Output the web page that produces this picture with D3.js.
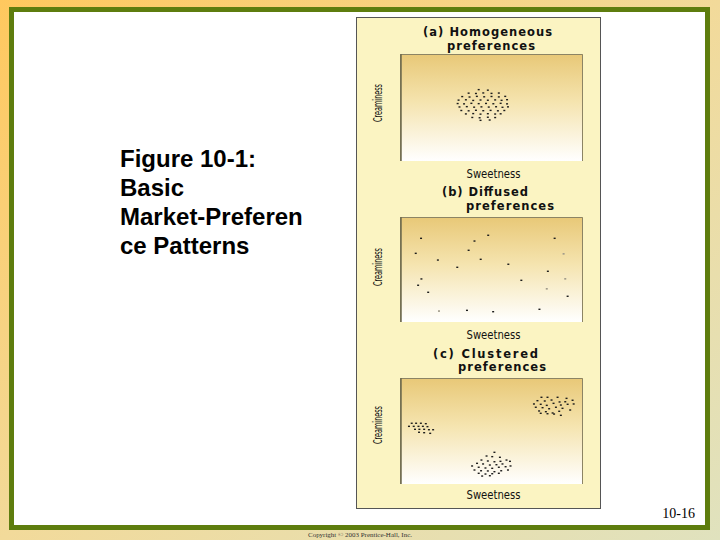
<!DOCTYPE html>
<html>
<head>
<meta charset="utf-8">
<title>Figure 10-1 Basic Market-Preference Patterns</title>
<script src="https://d3js.org/d3.v7.min.js"></script>
<style>
  body{ margin:0; padding:0; background:#fff; }
  svg{ display:block; }
  .heading{ font-family:"Liberation Sans", Arial, sans-serif; font-weight:bold; font-size:24px; fill:#000; }
  .ptitle{ font-family:"DejaVu Sans", sans-serif; font-weight:bold; font-size:11.5px; fill:#111; }
  .axlab{ font-family:"DejaVu Sans Condensed", "DejaVu Sans", sans-serif; font-size:13px; fill:#111; }
</style>
</head>
<body>
<div id="chart"></div>
<script>
// ---- data ----
var titleLines = ['Figure 10-1:', 'Basic', 'Market-Preferen', 'ce Patterns'];
var panelTitles = [['(a) Homogeneous', 'preferences'], ['(b) Diffused', 'preferences'], ['(c) Clustered', 'preferences']];
var xLabel = 'Sweetness', yLabel = 'Creaminess';
var pageNumber = '10-16';
var copyright = 'Copyright \u00a9 2003 Prentice-Hall, Inc.';

// [sweetness, creaminess] on a 0-100 scale
var homogeneous = [
  [43,66.7],[48,66.2],
  [37.5,63.4],[41.5,63.1],[45.5,63.6],[50,63.2],[54,63.5],
  [34,60.2],[38,59.8],[42,60.4],[46,60],[50,60.3],[54,59.9],[57.5,60.4],
  [32,56.9],[36,57.2],[40,56.6],[44,57],[48,56.8],[52,57.1],[55.5,56.7],[58.5,57.3],
  [31.5,53.7],[35,53.4],[39,53.9],[43,53.6],[47,53.8],[51,53.5],[55,53.9],[58.5,53.4],
  [32.5,50.5],[36.5,50.8],[40.5,50.3],[44.5,50.6],[48.5,50.4],[52.5,50.7],[56,50.2],[59,50.6],
  [33.5,47.2],[37.5,46.9],[41.5,47.4],[45.5,47],[49.5,47.3],[53.5,46.9],[57,47.2],
  [36,44],[40,44.3],[44,43.8],[48,44.2],[52,43.9],[55,44.1],
  [39.5,40.7],[43.5,40.4],[48,40.9],[52,40.6],
  [44,38],[49,38.3]
];
var diffused = [
  [11.5,79.7],[48.2,82.6],[40.7,77.1],[84.5,79.7],[8.6,65.4],[37.5,68.3],
  [20.7,59],[44.1,59.7],[31.3,52.1],[59.2,55],[80.8,48.3],[11.7,41],
  [66.3,39.7],[9.9,35],[15.4,28.3],[91.6,24.5],[36.6,11.1],[50.9,9.8],[76.2,12.1]
];
var diffusedFaint = [[89.4,65],[90.3,41.2],[80.2,31.7],[21.3,10.5]];
var clustered = [
  // small cluster, left
  [6.4,57.3],[8.8,57.3],[11.4,57.3],[14.1,56.9],
  [4.9,54.4],[7.5,54.4],[10.1,54.4],[12.5,54.4],[15,54.1],
  [8.2,51.6],[10.6,51.6],[13.2,51.6],[15.8,51.2],[18.1,51.2],
  [10.4,48.8],[13.2,48.4],[16.5,47.8],
  // upper right cluster
  [77.3,81.8],[80.6,81.8],[86.1,81.8],[91,80.8],
  [75.1,78.6],[79.1,78.3],[82.8,79.2],[87.2,77.4],[90.3,77.6],[94.3,79],
  [73.2,75.5],[76.9,75.2],[80.2,74.2],[83.9,76.1],[87.9,74.5],[91.6,75.2],[94.9,75.5],
  [74.2,72.4],[77.9,72],[81.5,71],[85.2,72.4],[88.8,71.4],[93,69.8],
  [76,68.9],[79.7,68.2],[83.4,67],[87,68.6],
  [76.9,66.7],[80.6,66.3],[84.2,66],[87.9,64.8],
  // bottom cluster
  [51.6,29.9],
  [47.3,26.4],[50.4,25.8],[54.6,25.2],
  [44.5,22.6],[48,21.7],[51.6,21],[54.9,21.4],[58.2,22.6],
  [42.1,19.5],[45.4,18.9],[49.1,17.9],[52.7,18.2],[56,18.9],[60.1,21.4],
  [39.4,17],[43,15.8],[46.7,15.1],[50.4,14.8],[54,15.8],[57.7,16.3],[60.4,17],
  [40.7,13.2],[44.3,12.5],[48,12.3],[51.6,11.6],[55.3,12.5],[59,13.2],
  [43,10.1],[46.7,9.4],[50.4,9.7],[54,10.1],
  [44.9,7.5],[49.1,7.8]
];
var panelPoints = [[homogeneous, []], [diffused, diffusedFaint], [clustered, []]];

// ---- layout ----
var width = 720, height = 540;
var svg = d3.select('#chart').append('svg')
  .attr('width', width).attr('height', height);

var defs = svg.append('defs');
var bg = defs.append('linearGradient').attr('id', 'bgGrad')
  .attr('x1', 0).attr('y1', 0).attr('x2', 1).attr('y2', 1);
bg.append('stop').attr('offset', '0%').attr('stop-color', '#FFC85E');
bg.append('stop').attr('offset', '50%').attr('stop-color', '#F2DA9A');
bg.append('stop').attr('offset', '100%').attr('stop-color', '#E0E2BE');

var plotGrad = defs.append('linearGradient').attr('id', 'plotGrad')
  .attr('x1', 0).attr('y1', 0).attr('x2', 0).attr('y2', 1);
plotGrad.append('stop').attr('offset', '0%').attr('stop-color', '#E8C877');
plotGrad.append('stop').attr('offset', '45%').attr('stop-color', '#F5E4AF');
plotGrad.append('stop').attr('offset', '100%').attr('stop-color', '#FFFFFF');

// slide background and green frame
svg.append('rect').attr('width', width).attr('height', height).attr('fill', 'url(#bgGrad)');
svg.append('rect')
  .attr('x', 11.5).attr('y', 9.5).attr('width', 696).attr('height', 518)
  .attr('fill', '#fff').attr('stroke', '#5E7D0E').attr('stroke-width', 5);

// left heading
svg.selectAll('.heading').data(titleLines).enter()
  .append('text').attr('class', 'heading')
  .attr('x', 120).attr('y', function(d, i){ return 167 + i * 29; })
  .text(function(d){ return d; });

// figure panel
svg.append('rect')
  .attr('x', 356.5).attr('y', 17.5).attr('width', 244).attr('height', 491)
  .attr('fill', '#FBF4C2').attr('stroke', '#555', 1);

var panels = [
  { top: 54, bottom: 161, t1: [423, 36, 129], t2: [447, 49.5, 88], lab: 177.5, cy: 103 },
  { top: 217, bottom: 322, t1: [442, 196, 86], t2: [466, 209.5, 88], lab: 339, cy: 267 },
  { top: 378, bottom: 484, t1: [433, 357.5, 105], t2: [458, 371, 88], lab: 499, cy: 425 }
];
var plotLeft = 400, plotRight = 583;

panels.forEach(function(p, k){
  var g = svg.append('g');
  var xScale = d3.scaleLinear().domain([0, 100]).range([plotLeft, plotRight]);
  var yScale = d3.scaleLinear().domain([0, 100]).range([p.bottom, p.top]);

  g.append('text').attr('class', 'ptitle')
    .attr('x', p.t1[0]).attr('y', p.t1[1])
    .attr('textLength', p.t1[2]).attr('lengthAdjust', 'spacing')
    .text(panelTitles[k][0]);
  g.append('text').attr('class', 'ptitle')
    .attr('x', p.t2[0]).attr('y', p.t2[1])
    .attr('textLength', p.t2[2]).attr('lengthAdjust', 'spacing')
    .text(panelTitles[k][1]);

  g.append('rect')
    .attr('x', plotLeft).attr('y', p.top)
    .attr('width', plotRight - plotLeft).attr('height', p.bottom - p.top)
    .attr('fill', 'url(#plotGrad)');
  // box edges: darker left, thin top and right
  g.append('path')
    .attr('d', 'M' + (plotLeft + 0.5) + ',' + p.bottom + 'V' + (p.top + 0.5) + 'H' + (plotRight - 0.5) + 'V' + p.bottom)
    .attr('fill', 'none').attr('stroke', '#8C8464').attr('stroke-width', 1);
  g.append('line')
    .attr('x1', plotLeft + 1).attr('x2', plotLeft + 1).attr('y1', p.top).attr('y2', p.bottom)
    .attr('stroke', '#6E6A4C').attr('stroke-width', 1.5);

  // dots
  g.selectAll('.dot').data(panelPoints[k][0]).enter()
    .append('rect').attr('class', 'dot')
    .attr('x', function(d){ return xScale(d[0]) - 1; })
    .attr('y', function(d){ return yScale(d[1]) - 0.7; })
    .attr('width', 2).attr('height', 1.4)
    .attr('fill', '#1c1c1c');
  g.selectAll('.faint').data(panelPoints[k][1]).enter()
    .append('rect').attr('class', 'faint')
    .attr('x', function(d){ return xScale(d[0]) - 1; })
    .attr('y', function(d){ return yScale(d[1]) - 0.7; })
    .attr('width', 2).attr('height', 1.6)
    .attr('fill', '#a09a8a');

  // axis labels
  g.append('text').attr('class', 'axlab')
    .attr('x', 493.5).attr('y', p.lab)
    .attr('text-anchor', 'middle')
    .attr('textLength', 54).attr('lengthAdjust', 'spacingAndGlyphs')
    .text(xLabel);
  g.append('text').attr('class', 'axlab')
    .attr('transform', 'translate(382,' + p.cy + ') rotate(-90)')
    .attr('text-anchor', 'middle')
    .attr('textLength', 38).attr('lengthAdjust', 'spacingAndGlyphs')
    .text(yLabel);
});

// page number and copyright
svg.append('text')
  .attr('x', 695).attr('y', 518).attr('text-anchor', 'end')
  .style('font-family', '"Liberation Serif", "Times New Roman", serif')
  .style('font-size', '14px').attr('fill', '#000')
  .text(pageNumber);
svg.append('text')
  .attr('x', 308).attr('y', 537)
  .attr('textLength', 104).attr('lengthAdjust', 'spacingAndGlyphs')
  .style('font-family', '"Liberation Serif", "Times New Roman", serif')
  .style('font-size', '6px').attr('fill', '#333')
  .text(copyright);
</script>
</body>
</html>
